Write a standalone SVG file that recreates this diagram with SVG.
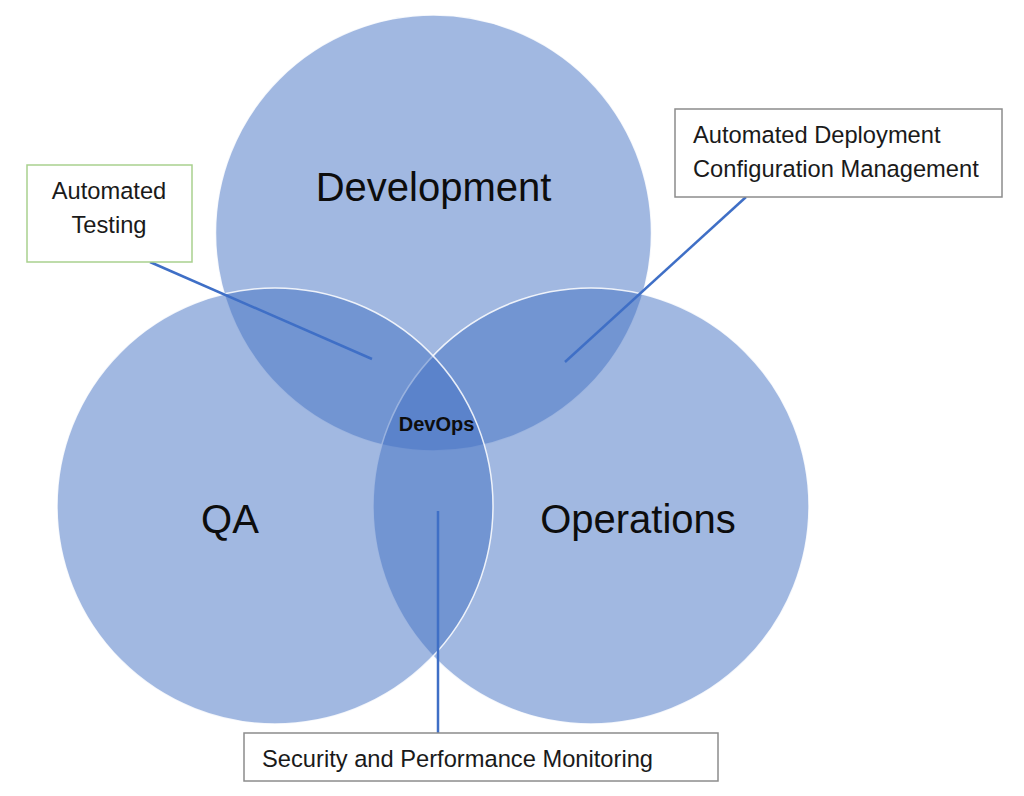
<svg xmlns="http://www.w3.org/2000/svg" width="1024" height="796" viewBox="0 0 1024 796">
  <style>
    .set { fill: #4472C4; fill-opacity: 0.5; stroke: #ffffff; stroke-width: 1.5; stroke-opacity: 0.85; }
    .big { font-family: "Liberation Sans", Arial, sans-serif; font-size: 40px; fill: #0d0d0d; text-anchor: middle; }
    .core { font-family: "Liberation Sans", Arial, sans-serif; font-size: 20px; font-weight: bold; fill: #0d0d0d; text-anchor: middle; }
    .note { font-family: "Liberation Sans", Arial, sans-serif; font-size: 23.7px; fill: #1a1a1a; }
    .box { fill: #ffffff; stroke: #8c8c8c; stroke-width: 1.5; }
    .box-green { fill: #ffffff; stroke: #a9d18e; stroke-width: 1.5; }
    .conn { stroke: #3f6fc6; stroke-width: 2.5; fill: none; stroke-linecap: butt; }
  </style>
  <rect width="1024" height="796" fill="#ffffff"/>

  <g id="node-development">
    <circle class="set" cx="433.5" cy="233" r="218"/>
  </g>
  <g id="node-operations">
    <circle class="set" cx="591" cy="506" r="218"/>
  </g>
  <g id="node-qa">
    <circle class="set" cx="275" cy="506" r="218"/>
  </g>

  <g id="labels">
    <text class="big" x="433.5" y="201">Development</text>
    <text class="big" x="230" y="533">QA</text>
    <text class="big" x="638" y="533">Operations</text>
  </g>
  <g id="node-devops">
    <text class="core" x="436.5" y="431">DevOps</text>
  </g>

  <g id="connectors">
    <line class="conn" x1="150" y1="262" x2="372" y2="359"/>
    <line class="conn" x1="746" y1="197" x2="565" y2="362"/>
    <line class="conn" x1="438" y1="511" x2="438" y2="733"/>
  </g>

  <g id="node-automated-testing">
    <rect class="box-green" x="27" y="165" width="165" height="97"/>
    <text class="note" x="109" y="199" text-anchor="middle">Automated</text>
    <text class="note" x="109" y="233" text-anchor="middle">Testing</text>
  </g>
  <g id="node-deployment-config">
    <rect class="box" x="675" y="109" width="327" height="88"/>
    <text class="note" x="693" y="143">Automated Deployment</text>
    <text class="note" x="693" y="177">Configuration Management</text>
  </g>
  <g id="node-security-monitoring">
    <rect class="box" x="244" y="733" width="474" height="48"/>
    <text class="note" x="262" y="767">Security and Performance Monitoring</text>
  </g>
</svg>
